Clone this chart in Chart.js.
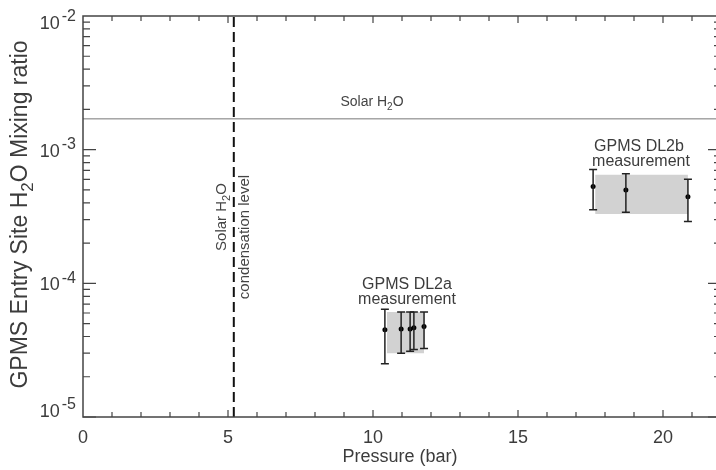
<!DOCTYPE html>
<html>
<head>
<meta charset="utf-8">
<script src="https://cdn.jsdelivr.net/npm/chart.js@4.4.1/dist/chart.umd.min.js"></script>
<style>
  html, body { margin: 0; padding: 0; background: #fff; overflow: hidden; }
  #wrap { width: 740px; height: 470px; }
</style>
</head>
<body>
<div id="wrap"><canvas id="chart" width="740" height="470"></canvas></div>
<script>
// axis ranges and tick labels
const xTicks = [0, 5, 10, 15, 20];
const yTicks = [1e-5, 1e-4, 1e-3, 1e-2];
const yTickExp = ['-5', '-4', '-3', '-2'];

// reference levels
const solarH2O = 1.7e-3;
const condensationP = 5.2;

// GPMS DL2a
const dl2aP = [10.41, 10.97, 11.28, 11.41, 11.76];
const dl2aMix = [4.5e-5, 4.55e-5, 4.55e-5, 4.65e-5, 4.75e-5];
const dl2aLow = [2.5e-5, 3.0e-5, 3.1e-5, 3.2e-5, 3.25e-5];
const dl2aHigh = [6.4e-5, 6.1e-5, 6.1e-5, 6.1e-5, 6.1e-5];
const dl2aBoxP = [10.48, 11.76];
const dl2aBoxMix = [3.0e-5, 6.1e-5];

// GPMS DL2b
const dl2bP = [17.59, 18.72, 20.86];
const dl2bMix = [5.3e-4, 5.0e-4, 4.45e-4];
const dl2bLow = [3.55e-4, 3.4e-4, 2.9e-4];
const dl2bHigh = [7.1e-4, 6.6e-4, 6.0e-4];
const dl2bBoxP = [17.66, 20.86];
const dl2bBoxMix = [3.3e-4, 6.5e-4];

const FONT = '"Liberation Sans", Arial, Helvetica, sans-serif';
const TXT = '#3c3c3c';

function pts(xs, ys) { return xs.map((x, i) => ({ x: x, y: ys[i] })); }

// draw text made of parts (normal / sub / sup) along a baseline
function drawRich(ctx, x, y, parts, size, align, small, gap) {
    const sm = small || Math.round(size * 0.72);
    const g = gap || 0;
    const widths = parts.map(p => {
        ctx.font = (p.sub || p.sup ? sm : size) + 'px ' + FONT;
        return ctx.measureText(p.t).width + (p.sup ? g : 0);
    });
    const total = widths.reduce((a, b) => a + b, 0);
    let cx = align === 'center' ? x - total / 2 : (align === 'right' ? x - total : x);
    ctx.textAlign = 'left';
    ctx.textBaseline = 'alphabetic';
    parts.forEach((p, i) => {
        let dy = 0;
        if (p.sub) dy = size * 0.25;
        if (p.sup) dy = -size * 0.42;
        ctx.font = (p.sub || p.sup ? sm : size) + 'px ' + FONT;
        ctx.fillText(p.t, cx + (p.sup ? g : 0), y + dy);
        cx += widths[i];
    });
}

const errorBars = {
    id: 'errorBars',
    afterDatasetsDraw(chart) {
        const ctx = chart.ctx, xs = chart.scales.x, ys = chart.scales.y;
        ctx.save();
        ctx.strokeStyle = '#222';
        ctx.lineWidth = 1.5;
        [[dl2aP, dl2aLow, dl2aHigh], [dl2bP, dl2bLow, dl2bHigh]].forEach(g => {
            g[0].forEach((p, i) => {
                const px = xs.getPixelForValue(p);
                const y0 = ys.getPixelForValue(g[1][i]);
                const y1 = ys.getPixelForValue(g[2][i]);
                ctx.beginPath();
                ctx.moveTo(px, y0); ctx.lineTo(px, y1);
                ctx.moveTo(px - 4, y0); ctx.lineTo(px + 4, y0);
                ctx.moveTo(px - 4, y1); ctx.lineTo(px + 4, y1);
                ctx.stroke();
            });
        });
        ctx.restore();
    }
};

const frame = {
    id: 'frame',
    afterDraw(chart) {
        const ctx = chart.ctx, a = chart.chartArea;
        const xs = chart.scales.x, ys = chart.scales.y;
        ctx.save();
        ctx.strokeStyle = '#444';
        ctx.lineWidth = 1.5;
        ctx.strokeRect(a.left, a.top, a.right - a.left, a.bottom - a.top);

        ctx.lineWidth = 1.2;
        ctx.beginPath();
        // x ticks, inward on bottom and top
        for (let v = 1; v <= 22; v++) {
            const px = xs.getPixelForValue(v);
            const len = v % 5 === 0 ? 7 : 5;
            ctx.moveTo(px, a.bottom); ctx.lineTo(px, a.bottom - len);
            ctx.moveTo(px, a.top); ctx.lineTo(px, a.top + len);
        }
        // y ticks, inward on left and right
        for (let e = -5; e < -2; e++) {
            for (let m = 1; m <= 9; m++) {
                const v = m * Math.pow(10, e);
                const py = ys.getPixelForValue(v);
                const len = m === 1 ? 13 : 7;
                ctx.moveTo(a.left, py); ctx.lineTo(a.left + len, py);
                ctx.moveTo(a.right, py); ctx.lineTo(a.right - len, py);
            }
        }
        ctx.stroke();

        ctx.fillStyle = TXT;
        // x tick labels
        ctx.font = '18px ' + FONT;
        ctx.textAlign = 'center';
        ctx.textBaseline = 'middle';
        xTicks.forEach(v => ctx.fillText(String(v), xs.getPixelForValue(v), a.bottom + 21));
        // y tick labels as 10 with superscript exponent
        yTicks.forEach((v, i) => {
            let py = ys.getPixelForValue(v);
            py = Math.min(Math.max(py, a.top + 6), a.bottom - 7);
            drawRich(ctx, 76, py + 7, [{ t: '10' }, { t: yTickExp[i], sup: true }], 18, 'right', 16, 2);
        });

        // axis titles
        ctx.font = '18px ' + FONT;
        ctx.textAlign = 'center';
        ctx.textBaseline = 'middle';
        ctx.fillText('Pressure (bar)', (a.left + xs.getPixelForValue(22)) / 2 - 2, 457);
        ctx.save();
        ctx.translate(27, (a.top + a.bottom) / 2 - 2);
        ctx.rotate(-Math.PI / 2);
        drawRich(ctx, 0, 0, [{ t: 'GPMS Entry Site H' }, { t: '2', sub: true }, { t: 'O Mixing ratio' }], 23, 'center');
        ctx.restore();

        // annotations
        ctx.fillStyle = '#444';
        drawRich(ctx, 372, 106, [{ t: 'Solar H' }, { t: '2', sub: true }, { t: 'O' }], 14, 'center');

        ctx.fillStyle = TXT;
        ctx.font = '16px ' + FONT;
        ctx.textAlign = 'center';
        ctx.textBaseline = 'alphabetic';
        ctx.fillText('GPMS DL2a', 407, 289);
        ctx.fillText('measurement', 407, 304);
        ctx.fillText('GPMS DL2b', 639, 151);
        ctx.fillText('measurement', 641, 166);

        const cx = xs.getPixelForValue(condensationP);
        ctx.fillStyle = '#444';
        ctx.save();
        ctx.translate(cx - 8, 217);
        ctx.rotate(-Math.PI / 2);
        drawRich(ctx, 0, 0, [{ t: 'Solar H' }, { t: '2', sub: true }, { t: 'O' }], 15, 'center');
        ctx.restore();
        ctx.save();
        ctx.translate(cx + 15, 237);
        ctx.rotate(-Math.PI / 2);
        ctx.font = '15px ' + FONT;
        ctx.textAlign = 'center';
        ctx.fillText('condensation level', 0, 0);
        ctx.restore();

        ctx.restore();
    }
};

new Chart(document.getElementById('chart'), {
    type: 'scatter',
    data: {
        datasets: [
            { data: pts(dl2aP, dl2aMix), pointRadius: 2.5, backgroundColor: '#000', borderWidth: 0, order: 0 },
            { data: pts(dl2bP, dl2bMix), pointRadius: 2.5, backgroundColor: '#000', borderWidth: 0, order: 0 },
            { type: 'line', data: pts([0, 22], [solarH2O, solarH2O]), borderColor: '#777', borderWidth: 1, pointRadius: 0, fill: false, order: 1 },
            { type: 'line', data: pts([condensationP, condensationP], [1e-5, 1e-2]), borderColor: '#111', borderWidth: 2, borderDash: [10, 5], pointRadius: 0, fill: false, order: 1 },
            { type: 'line', data: pts(dl2aBoxP, [dl2aBoxMix[1], dl2aBoxMix[1]]), borderWidth: 0, pointRadius: 0, fill: '+1', backgroundColor: '#d2d2d2', order: 2 },
            { type: 'line', data: pts(dl2aBoxP, [dl2aBoxMix[0], dl2aBoxMix[0]]), borderWidth: 0, pointRadius: 0, fill: false, order: 2 },
            { type: 'line', data: pts(dl2bBoxP, [dl2bBoxMix[1], dl2bBoxMix[1]]), borderWidth: 0, pointRadius: 0, fill: '+1', backgroundColor: '#d2d2d2', order: 2 },
            { type: 'line', data: pts(dl2bBoxP, [dl2bBoxMix[0], dl2bBoxMix[0]]), borderWidth: 0, pointRadius: 0, fill: false, order: 2 }
        ]
    },
    options: {
        responsive: false,
        animation: false,
        layout: { padding: { left: 83, top: 16, right: 19, bottom: 53 } },
        plugins: { legend: { display: false }, tooltip: { enabled: false } },
        scales: {
            x: { type: 'linear', min: 0, max: 22, display: false },
            y: { type: 'logarithmic', min: 1e-5, max: 1e-2, display: false }
        }
    },
    plugins: [errorBars, frame]
});
</script>
</body>
</html>
